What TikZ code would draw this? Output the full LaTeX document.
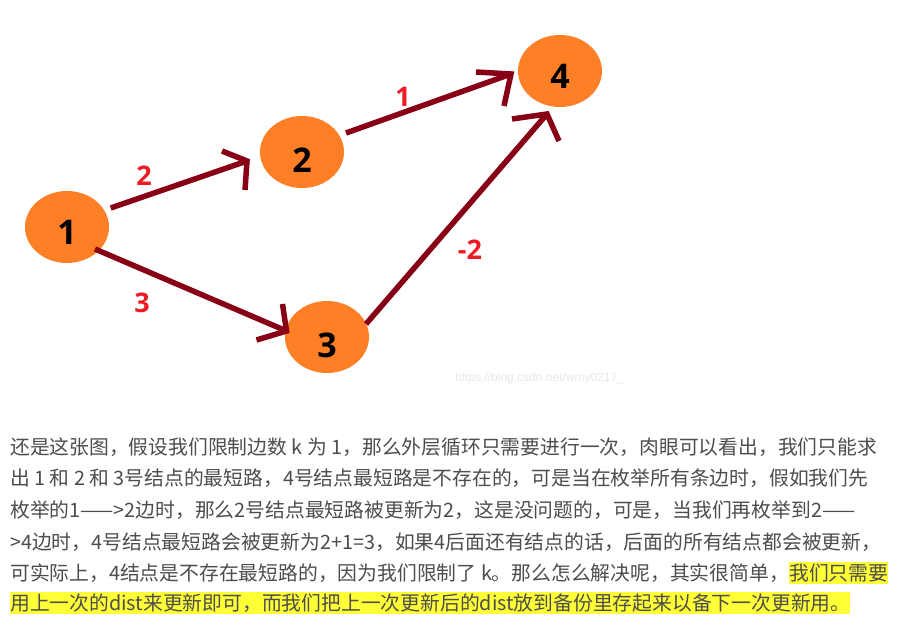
\documentclass[tikz,border=0pt]{standalone}
\usepackage{fontspec}
\newfontfamily\cjkfont{Noto Sans CJK SC}
\newfontfamily\numfont{Open Sans}
\newfontfamily\wmfont{Liberation Sans}
\usetikzlibrary{shapes.geometric}
\definecolor{paintorange}{RGB}{255,127,39}
\definecolor{paintdark}{RGB}{136,0,21}
\definecolor{paintred}{RGB}{237,28,36}
\definecolor{bodytext}{RGB}{77,77,77}
\definecolor{hl}{RGB}{255,255,56}
\begin{document}
\begin{tikzpicture}[x=1pt,y=-1pt,
  vertex/.style={ellipse, fill=paintorange, minimum width=84pt, minimum height=72pt, inner sep=0pt},
  vnum/.style={font=\numfont\bfseries\fontsize{34}{34}\selectfont, text=black},
  edge/.style={draw=paintdark, line width=5.5pt, line cap=butt, line join=miter},
  wlabel/.style={font=\numfont\bfseries\fontsize{27}{27}\selectfont, text=paintred},
  txt/.style={anchor=base west, inner sep=0pt, font=\cjkfont\fontsize{19.8}{19.8}\selectfont, text=bodytext},
  hlbox/.style={fill=hl, text height=18.6pt, text depth=3.6pt}
]
\useasboundingbox (0,0) rectangle (908,640);
\fill[white] (0,0) rectangle (908,640);

% vertices
\node[vertex, label={[vnum,yshift=-5pt]center:1}] (n1) at (67,227) {};
\node[vertex, label={[vnum,yshift=-8pt]center:2}] (n2) at (302,152) {};
\node[vertex, label={[vnum,yshift=-8pt]center:3}] (n3) at (327,337) {};
\node[vertex, label={[vnum,yshift=-5pt]center:4}] (n4) at (560,71) {};

% arrow tips
\coordinate (t12) at ([shift={(-55,9)}]n2.center);
\coordinate (t13) at ([shift={(-40.5,-6)}]n3.center);
\coordinate (t24) at ([shift={(-49,3)}]n4.center);
\coordinate (t34) at ([shift={(-13,43)}]n4.center);

% edges
\draw[edge] ([shift={(43.7,-19)}]n1.center) -- (t12)
  ([shift={(-25,-10)}]t12) -- (t12) -- ([shift={(-2,29)}]t12);
\draw[edge] ([shift={(28,22)}]n1.center) -- (t13)
  ([shift={(-4,-27)}]t13) -- (t13) -- ([shift={(-30,9)}]t13);
\draw[edge] ([shift={(44,-19)}]n2.center) -- (t24)
  ([shift={(-35,-2)}]t24) -- (t24) -- ([shift={(-7,32)}]t24);
\draw[edge] ([shift={(39,-13)}]n3.center) -- (t34)
  ([shift={(-35,5)}]t34) -- (t34) -- ([shift={(12,27)}]t34);

% weights
\node[wlabel] (w12) at (144,176) {2};
\node[wlabel] (w24) at (403,97) {1};
\node[wlabel] (w13) at (142,303) {3};
\node[wlabel] (w34) at (470,250) {-2};

% watermark
\node[font=\wmfont\fontsize{12}{12}\selectfont, text=black!9, anchor=west, inner sep=0pt] (wm) at (455,378) {https://blog.csdn.net/wmy0217\_};

% paragraph
\node[txt] (p1) at (10,454) {还是这张图，假设我们限制边数 k 为 1，那么外层循环只需要进行一次，肉眼可以看出，我们只能求};
\node[txt] (p2) at (10,485.5) {出 1 和 2 和 3号结点的最短路，4号结点最短路是不存在的，可是当在枚举所有条边时，假如我们先};
\node[txt] (p3) at (10,517) {枚举的1——>2边时，那么2号结点最短路被更新为2，这是没问题的，可是，当我们再枚举到2——};
\node[txt] (p4) at (10,549) {>4边时，4号结点最短路会被更新为2+1=3，如果4后面还有结点的话，后面的所有结点都会被更新，};
\node[txt] (p5) at (10,580.5) {可实际上，4结点是不存在最短路的，因为我们限制了 k。那么怎么解决呢，其实很简单，};
\node[txt, hlbox] (p5h) at (p5.base east) {我们只需要};
\node[txt, hlbox] (p6) at (10,610.5) {用上一次的dist来更新即可，而我们把上一次更新后的dist放到备份里存起来以备下一次更新用。};
\end{tikzpicture}
\end{document}
